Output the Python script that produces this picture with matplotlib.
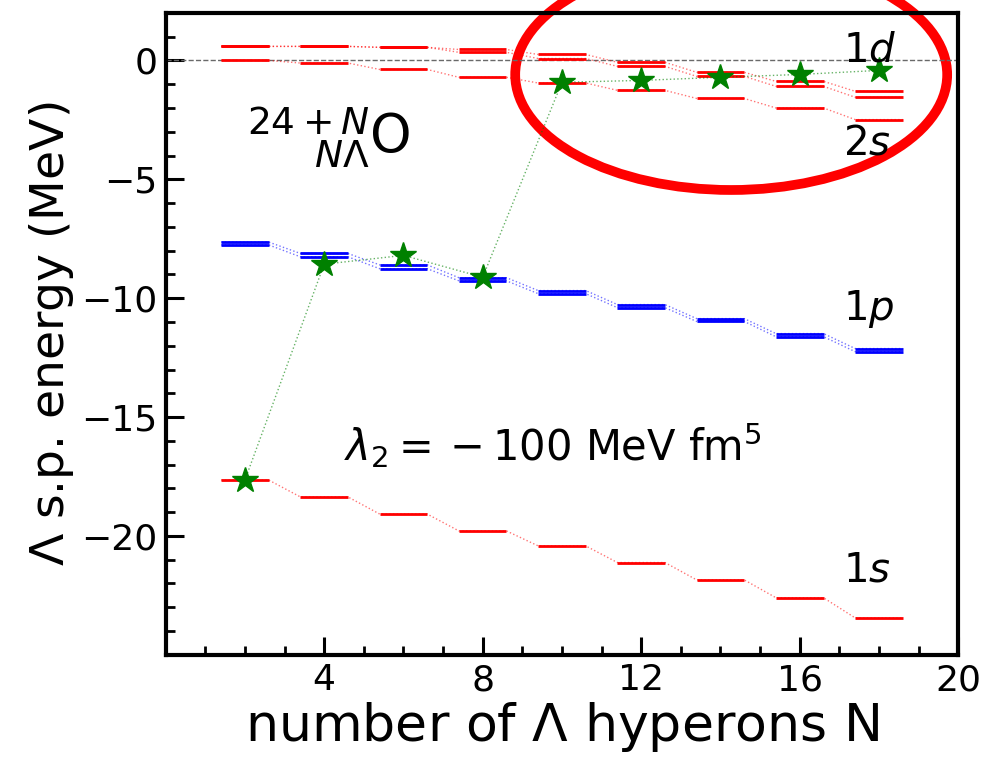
import numpy as np
import matplotlib
matplotlib.use("Agg")
import matplotlib.pyplot as plt
from matplotlib.patches import Ellipse
from matplotlib.ticker import MultipleLocator

# number of Lambda hyperons
n_lam = [2, 4, 6, 8, 10, 12, 14, 16, 18]

# single-particle levels (MeV)
e_1s = [-17.65, -18.36, -19.08, -19.79, -20.42, -21.12, -21.85, -22.6, -23.45]
e_1p_a = [-7.64, -8.12, -8.60, -9.14, -9.68, -10.27, -10.86, -11.49, -12.12]
e_1p_b = [-7.76, -8.26, -8.76, -9.27, -9.81, -10.40, -10.98, -11.62, -12.25]
e_1d_a = [0.59, 0.59, 0.55, 0.46, 0.25, -0.08, -0.50, -0.88, -1.30]
e_1d_b = [0.59, 0.59, 0.55, 0.34, 0.08, -0.25, -0.67, -1.09, -1.55]
e_2s = [0.0, -0.11, -0.38, -0.71, -0.95, -1.26, -1.60, -2.00, -2.49]

# last occupied level (stars)
e_last = [-17.65, -8.57, -8.20, -9.12, -0.92, -0.84, -0.71, -0.59, -0.42]

half = 0.6  # half width of a level bar


def draw_level(ax, energies, color):
    xs, ys = [], []
    for n, e in zip(n_lam, energies):
        xs += [n - half, n + half]
        ys += [e, e]
    ax.plot(xs, ys, ls=':', lw=1.0, color=color, alpha=0.55)
    ax.hlines(energies, np.array(n_lam) - half, np.array(n_lam) + half,
              colors=color, lw=2.0)


fig = plt.figure(figsize=(9.92, 7.57), dpi=100)
ax = fig.add_axes([0.167, 0.135, 0.799, 0.848])

ax.axhline(0, color='dimgray', ls='--', lw=1.0)

draw_level(ax, e_1s, 'red')
draw_level(ax, e_2s, 'red')
draw_level(ax, e_1d_a, 'red')
draw_level(ax, e_1d_b, 'red')
draw_level(ax, e_1p_a, 'blue')
draw_level(ax, e_1p_b, 'blue')

ax.plot(n_lam, e_last, ls=':', lw=1.0, color='green', alpha=0.6)
ax.plot(n_lam, e_last, ls='none', marker='*', ms=19, color='green')

ax.set_xlim(0, 20)
ax.set_ylim(-25, 2)
ax.set_xticks([4, 8, 12, 16, 20])
ax.set_yticks([0, -5, -10, -15, -20])
ax.xaxis.set_minor_locator(MultipleLocator(1))
ax.yaxis.set_minor_locator(MultipleLocator(1))
ax.tick_params(which='both', direction='in', top=False, right=False,
               labelsize=26)
ax.tick_params(which='major', length=13, width=2.2, pad=6)
ax.tick_params(which='minor', length=6.5, width=2.0)
for sp in ax.spines.values():
    sp.set_linewidth(3)

ax.set_xlabel(r'number of $\Lambda$ hyperons N', fontsize=37.5, labelpad=2)
ax.set_ylabel(r'$\Lambda$ s.p. energy (MeV)', fontsize=34, labelpad=4)

# nucleus label with right-aligned pre-scripts
ax.text(5.15, -3.1, r'$24+N$', fontsize=27, ha='right', va='baseline')
ax.text(5.15, -4.5, r'$N\Lambda$', fontsize=27, ha='right', va='baseline')
ax.text(5.15, -3.85, 'O', fontsize=38, ha='left', va='baseline')

ax.text(4.5, -16.85, r'$\lambda_2 = {} - 100$ MeV fm$^5$', fontsize=30,
        ha='left', va='baseline')
ax.text(17.1, -0.05, r'$1d$', fontsize=29, ha='left', va='baseline')
ax.text(17.1, -3.95, r'$2s$', fontsize=29, ha='left', va='baseline')
ax.text(17.1, -10.92, r'$1p$', fontsize=29, ha='left', va='baseline')
ax.text(17.1, -21.9, r'$1s$', fontsize=29, ha='left', va='baseline')

# highlight around the 1d / 2s region
ax.add_patch(Ellipse((14.27, -0.6), 10.9, 9.7, fill=False, ec='red',
                     lw=7, transform=ax.transData, clip_on=False))

fig.savefig('out.png', dpi=100)
